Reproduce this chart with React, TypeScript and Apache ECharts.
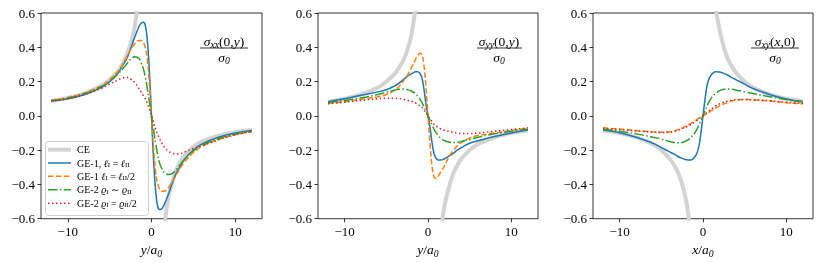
import React, { useEffect, useRef } from "react";
import * as echarts from "echarts";

const SERIF = "'Liberation Serif', 'DejaVu Serif', serif";

// common abscissa samples (y/a0 or x/a0)
const X = [-12, -10, -8, -6, -5, -4, -3.5, -3, -2.5, -2, -1.5, -1.25, -1, -0.75, -0.5, -0.25, 0,
  0.25, 0.5, 0.75, 1, 1.25, 1.5, 2, 2.5, 3, 3.5, 4, 5, 6, 8, 10, 12];

const N = null;

// panel 1: sigma_xx(0,y)/sigma_0
const CE1 = [0.087, 0.105, 0.13, 0.175, 0.21, 0.26, 0.3, 0.35, 0.42, 0.52, 0.7, 0.84, 1.05, N, N, N, N, N, N, N,
  -1.0, -0.8, -0.66, -0.48, -0.38, -0.31, -0.26, -0.23, -0.18, -0.15, -0.115, -0.095, -0.083];
const GE1a_1 = [0.086, 0.1, 0.125, 0.165, 0.2, 0.25, 0.29, 0.33, 0.39, 0.46, 0.52, 0.54, 0.546, 0.53, 0.44, 0.26, 0,
  -0.26, -0.44, -0.53, -0.546, -0.54, -0.52, -0.46, -0.39, -0.33, -0.29, -0.25, -0.2, -0.165, -0.125, -0.1, -0.086];
const GE1b_1 = [0.09, 0.107, 0.133, 0.175, 0.21, 0.26, 0.295, 0.34, 0.385, 0.42, 0.44, 0.44, 0.43, 0.4, 0.33, 0.19, 0,
  -0.19, -0.33, -0.4, -0.43, -0.44, -0.44, -0.42, -0.385, -0.34, -0.3, -0.265, -0.215, -0.18, -0.138, -0.11, -0.092];
const GE2a_1 = [0.088, 0.104, 0.13, 0.17, 0.2, 0.245, 0.27, 0.3, 0.33, 0.345, 0.335, 0.31, 0.28, 0.23, 0.16, 0.08, 0,
  -0.08, -0.16, -0.23, -0.28, -0.31, -0.33, -0.342, -0.335, -0.31, -0.28, -0.25, -0.205, -0.172, -0.132, -0.106, -0.09];
const GE2b_1 = [0.085, 0.1, 0.125, 0.16, 0.185, 0.21, 0.22, 0.225, 0.215, 0.195, 0.16, 0.14, 0.12, 0.1, 0.075, 0.04, 0,
  -0.04, -0.08, -0.11, -0.135, -0.16, -0.18, -0.205, -0.218, -0.222, -0.22, -0.21, -0.19, -0.175, -0.14, -0.11, -0.09];

// panel 2: sigma_yy(0,y)/sigma_0
const CE2 = [0.083, 0.1, 0.125, 0.165, 0.2, 0.245, 0.28, 0.32, 0.38, 0.47, 0.63, 0.78, 1.0, N, N, N, N, N, N, N,
  -1.05, -0.85, -0.7, -0.52, -0.42, -0.34, -0.29, -0.25, -0.2, -0.165, -0.125, -0.1, -0.085];
const GE1a_2 = [0.083, 0.1, 0.12, 0.14, 0.152, 0.175, 0.19, 0.21, 0.23, 0.245, 0.257, 0.258, 0.25, 0.225, 0.16, 0.07, 0,
  -0.07, -0.16, -0.225, -0.25, -0.258, -0.258, -0.25, -0.235, -0.22, -0.2, -0.185, -0.16, -0.145, -0.12, -0.1, -0.083];
const GE1b_2 = [0.073, 0.083, 0.097, 0.112, 0.125, 0.15, 0.17, 0.2, 0.235, 0.28, 0.33, 0.35, 0.365, 0.36, 0.3, 0.17, 0,
  -0.17, -0.3, -0.36, -0.365, -0.35, -0.33, -0.29, -0.24, -0.205, -0.175, -0.155, -0.13, -0.115, -0.1, -0.085, -0.073];
const GE2a_2 = [0.078, 0.09, 0.105, 0.125, 0.138, 0.15, 0.155, 0.156, 0.153, 0.145, 0.13, 0.115, 0.1, 0.08, 0.055, 0.028, 0,
  -0.028, -0.055, -0.08, -0.1, -0.115, -0.13, -0.145, -0.153, -0.156, -0.155, -0.15, -0.138, -0.125, -0.105, -0.09, -0.078];
const GE2b_2 = [0.07, 0.08, 0.09, 0.1, 0.103, 0.103, 0.1, 0.097, 0.09, 0.085, 0.075, 0.068, 0.06, 0.05, 0.035, 0.018, 0,
  -0.018, -0.035, -0.05, -0.06, -0.068, -0.075, -0.085, -0.09, -0.097, -0.1, -0.103, -0.103, -0.1, -0.09, -0.08, -0.07];

// panel 3: sigma_xy(x,0)/sigma_0
const CE3 = [-0.085, -0.1, -0.125, -0.165, -0.2, -0.25, -0.285, -0.33, -0.4, -0.5, -0.68, -0.82, -1.0, N, N, N, N, N, N, N,
  1.0, 0.8, 0.64, 0.5, 0.4, 0.33, 0.285, 0.25, 0.2, 0.165, 0.125, 0.1, 0.085];
const GE1a_3 = [-0.082, -0.098, -0.125, -0.16, -0.185, -0.21, -0.222, -0.237, -0.248, -0.256, -0.258, -0.252, -0.24, -0.22, -0.18, -0.1, 0,
  0.1, 0.18, 0.22, 0.24, 0.252, 0.258, 0.256, 0.248, 0.237, 0.222, 0.21, 0.185, 0.16, 0.125, 0.098, 0.082];
const GE1b_3 = [-0.07, -0.077, -0.086, -0.093, -0.095, -0.093, -0.088, -0.08, -0.07, -0.058, -0.045, -0.038, -0.03, -0.022, -0.015, -0.007, 0,
  0.007, 0.015, 0.022, 0.03, 0.038, 0.045, 0.058, 0.07, 0.08, 0.088, 0.093, 0.095, 0.093, 0.086, 0.077, 0.07];
const GE2a_3 = [-0.078, -0.09, -0.105, -0.125, -0.135, -0.15, -0.155, -0.157, -0.155, -0.145, -0.13, -0.115, -0.1, -0.08, -0.055, -0.028, 0,
  0.03, 0.06, 0.085, 0.105, 0.12, 0.13, 0.147, 0.155, 0.157, 0.155, 0.15, 0.14, 0.13, 0.112, 0.095, 0.083];
const GE2b_3 = [-0.073, -0.08, -0.088, -0.095, -0.097, -0.095, -0.09, -0.083, -0.075, -0.065, -0.052, -0.045, -0.037, -0.028, -0.018, -0.008, 0,
  0.01, 0.02, 0.03, 0.04, 0.048, 0.057, 0.07, 0.08, 0.087, 0.092, 0.094, 0.095, 0.094, 0.088, 0.08, 0.073];

const X_TICKS = [-10, 0, 10];
const SERIES_NAMES = ["CE", "GE-1, ℓI = ℓII", "GE-1 ℓI = ℓII/2", "GE-2 ϱI ∼ ϱII", "GE-2 ϱI = ϱII/2"];
const LEGEND_RICH_TEXT = [
  "{t|CE}",
  "{t|GE-1, }{i|ℓ}{s|I}{t| = }{i|ℓ}{s|II}",
  "{t|GE-1 }{i|ℓ}{s|I}{t| = }{i|ℓ}{s|II}{t|/2}",
  "{t|GE-2 }{i|ϱ}{s|I}{t| ∼ }{i|ϱ}{s|II}",
  "{t|GE-2 }{i|ϱ}{s|I}{t| = }{i|ϱ}{s|II}{t|/2}",
];
const PANEL_DATA = [
  [CE1, GE1a_1, GE1b_1, GE2a_1, GE2b_1],
  [CE2, GE1a_2, GE1b_2, GE2a_2, GE2b_2],
  [CE3, GE1a_3, GE1b_3, GE2a_3, GE2b_3],
];
const NUMERATORS = [
  "{s|σ}{b|xx}{n|(0,}{i|y}{n|)}",
  "{s|σ}{b|yy}{n|(0,}{i|y}{n|)}",
  "{s|σ}{b|xy}{n|(}{i|x}{n|,0)}",
];
const AXIS_NAMES = ["{i|y}{n|/}{i|a}{b|0}", "{i|y}{n|/}{i|a}{b|0}", "{i|x}{n|/}{i|a}{b|0}"];

const COLORS = ["#d3d3d3", "#1f77b4", "#ff7f0e", "#2ca02c", "#d62728"];
const WIDTHS = [4, 1.5, 1.5, 1.5, 1.5];
const DASHES: any[] = [null, null, [5.5, 2.4], [9.6, 2.4, 1.5, 2.4], [1.5, 2.5]];

const GRIDS = [
  { left: 41, top: 13, width: 221, height: 206 },
  { left: 318, top: 13, width: 220, height: 206 },
  { left: 593, top: 13, width: 220, height: 206 },
];
const FRAC = [
  { cx: 224, x1: 200, x2: 248 },
  { cx: 499, x1: 477, x2: 522 },
  { cx: 775, x1: 751, x2: 799 },
];
const LEGEND_BOX = { x: 45, y: 141, w: 103, h: 74 };
const LEGEND_ROWS = [149.7, 163, 176.3, 189.7, 203.3];

const mathRich = (fs: number) => ({
  n: { fontFamily: SERIF, fontSize: fs, color: "#000" },
  i: { fontFamily: SERIF, fontSize: fs, fontStyle: "italic", color: "#000" },
  s: { fontFamily: SERIF, fontSize: fs, fontStyle: "italic", color: "#000" },
  b: { fontFamily: SERIF, fontSize: fs * 0.72, fontStyle: "italic", color: "#000", padding: [fs * 0.5, 0, 0, 0] },
});

const fmtY = (v: number) => {
  const r = Math.round(v * 10) / 10;
  if (Math.abs(r) < 1e-9) return "0.0";
  return (r < 0 ? "−" : "") + Math.abs(r).toFixed(1);
};
const fmtX = (v: number) => (v < 0 ? "−" : "") + Math.abs(v).toString();

export default function App() {
  const ref = useRef<HTMLDivElement>(null);
  useEffect(() => {
    if (!ref.current) return;
    const chart = echarts.init(ref.current, null, { renderer: "svg" });

    const xAxis = GRIDS.map((_, k) => ({
      type: "value",
      gridIndex: k,
      min: -13.2,
      max: 13.2,
      name: AXIS_NAMES[k],
      nameLocation: "middle",
      nameGap: 18,
      nameTextStyle: { rich: mathRich(13.5) },
      axisLine: { show: false, onZero: false },
      splitLine: { show: false },
      axisTick: { show: true, customValues: X_TICKS, length: 3.5, lineStyle: { color: "#000", width: 0.8 } },
      axisLabel: {
        customValues: X_TICKS,
        formatter: fmtX,
        color: "#000",
        fontFamily: SERIF,
        fontSize: 13,
        margin: 6,
      },
    }));
    const yAxis = GRIDS.map((_, k) => ({
      type: "value",
      gridIndex: k,
      min: -0.6,
      max: 0.6,
      interval: 0.2,
      axisLine: { show: false, onZero: false },
      splitLine: { show: false },
      axisTick: { show: true, length: 3.5, lineStyle: { color: "#000", width: 0.8 } },
      axisLabel: { formatter: fmtY, color: "#000", fontFamily: SERIF, fontSize: 13, margin: 6 },
    }));

    const series: any[] = [];
    PANEL_DATA.forEach((curves, k) => {
      curves.forEach((vals, j) => {
        series.push({
          type: "line",
          name: SERIES_NAMES[j],
          xAxisIndex: k,
          yAxisIndex: k,
          data: X.map((x, i) => [x, vals[i] === null ? "-" : vals[i]]),
          showSymbol: false,
          symbol: "none",
          smooth: 0.4,
          clip: true,
          connectNulls: false,
          lineStyle: { color: COLORS[j], width: WIDTHS[j], type: DASHES[j] || "solid", cap: "butt" },
          itemStyle: { color: COLORS[j] },
          z: 2 + j,
        });
      });
    });

    const graphic: any[] = [];
    FRAC.forEach((f, k) => {
      graphic.push({
        type: "text",
        x: f.cx,
        y: 41,
        style: { text: NUMERATORS[k], rich: mathRich(13.5), align: "center", verticalAlign: "middle", fill: "#000" },
      });
      graphic.push({
        type: "line",
        shape: { x1: f.x1, y1: 48, x2: f.x2, y2: 48 },
        style: { stroke: "#000", lineWidth: 0.8 },
      });
      graphic.push({
        type: "text",
        x: f.cx,
        y: 57.5,
        style: { text: "{s|σ}{b|0}", rich: mathRich(13.5), align: "center", verticalAlign: "middle", fill: "#000" },
      });
    });

    // legend (drawn as graphic to reproduce line handles)
    graphic.push({
      type: "rect",
      z: 50,
      shape: { x: LEGEND_BOX.x + 0.5, y: LEGEND_BOX.y + 0.5, width: LEGEND_BOX.w, height: LEGEND_BOX.h, r: 3 },
      style: { fill: "rgba(255,255,255,0.8)", stroke: "#d0d0d0", lineWidth: 1 },
    });
    LEGEND_ROWS.forEach((yy, j) => {
      graphic.push({
        type: "line",
        z: 51,
        shape: { x1: 48, y1: yy, x2: 71, y2: yy },
        style: { stroke: COLORS[j], lineWidth: WIDTHS[j], lineDash: DASHES[j] || null, lineCap: "butt" },
      });
      graphic.push({
        type: "text",
        z: 51,
        x: 77,
        y: yy,
        style: {
          text: LEGEND_RICH_TEXT[j],
          align: "left",
          verticalAlign: "middle",
          fill: "#000",
          rich: {
            t: { fontFamily: SERIF, fontSize: 10, color: "#000" },
            i: { fontFamily: SERIF, fontSize: 10, fontStyle: "italic", color: "#000" },
            s: { fontFamily: SERIF, fontSize: 7, color: "#000", padding: [4, 0, 0, 0] },
          },
        },
      });
    });

    chart.setOption({
      animation: false,
      grid: GRIDS.map((g) => ({ ...g, show: true, borderColor: "#000", borderWidth: 0.8, backgroundColor: "transparent" })),
      xAxis,
      yAxis,
      graphic,
      series,
    });
    return () => chart.dispose();
  }, []);
  return <div ref={ref} style={{ position: "fixed", left: 0, top: 0, width: 830, height: 263 }} />;
}
